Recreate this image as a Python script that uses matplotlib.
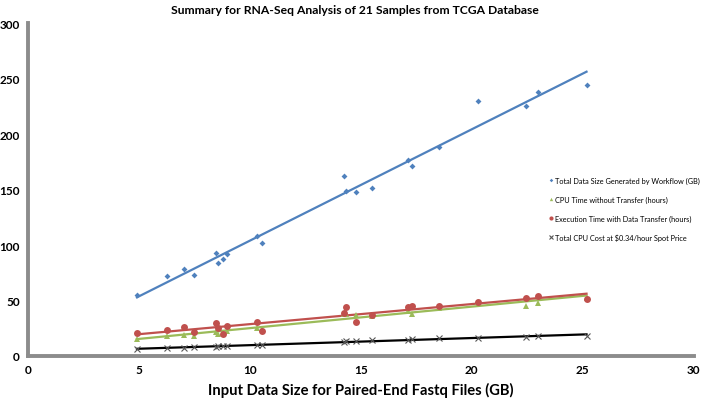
import numpy as np
import matplotlib
matplotlib.use("Agg")
import matplotlib.pyplot as plt

plt.rcParams['font.family'] = ['Lato', 'DejaVu Sans']

input_size = [4.91, 6.26, 7.01, 7.48, 8.47, 8.57, 8.81, 8.98, 10.34, 10.54,
              14.23, 14.32, 14.79, 15.5, 17.12, 17.31, 18.53, 20.26, 22.46, 22.97, 25.17]
data_size = [55, 71.8, 78, 72.7, 93, 83.5, 87, 91.5, 108, 101.5,
             162.5, 148.6, 148, 151.4, 176.3, 171, 188.3, 230, 225.5, 237.8, 244.4]
cpu_time = [15.3, 18.3, 19.2, 18.3, 21.3, 19.8, 21.0, 22.8, 25.5, 24.0,
            37.8, 38.0, 37.0, 36.3, 40.8, 37.8, 43.0, 49.0, 45.3, 47.7, 52.0]
exec_time = [20.4, 23.7, 26.4, 22.0, 29.4, 24.9, 19.8, 27.0, 30.6, 22.8,
             38.7, 43.8, 30.9, 37.0, 43.8, 44.7, 45.3, 48.3, 52.0, 53.7, 51.3]
cpu_cost = [6.5, 7.3, 7.6, 7.7, 8.5, 8.6, 8.8, 9.0, 9.5, 9.8,
            12.5, 13.3, 13.6, 14.0, 14.6, 15.2, 16.0, 16.4, 17.2, 17.8, 18.3]

labels = ["Total Data Size Generated by Workflow (GB)",
          "CPU Time without Transfer (hours)",
          "Execution Time with Data Transfer (hours)",
          "Total CPU Cost at $0.34/hour Spot Price"]
title = "Summary for RNA-Seq Analysis of 21 Samples from TCGA Database"
xlabel = "Input Data Size for Paired-End Fastq Files (GB)"

fig = plt.figure(figsize=(7.03, 4.02), dpi=100)
ax = fig.add_axes([0.0398, 0.112, 0.947, 0.828])

x = np.array(input_size)
series = [
    (data_size, '#4F81BD', 'D', 3.0, labels[0], '#4F81BD'),
    (cpu_time, '#9BBB59', '^', 4.0, labels[1], '#9BBB59'),
    (exec_time, '#C0504D', 'o', 5.0, labels[2], '#C0504D'),
    (cpu_cost, '#000000', 'x', 4.5, labels[3], '#555555'),
]
xs = np.array([x.min(), x.max()])
for y, col, mk, ms, lab, mcol in series:
    y = np.array(y)
    kw = dict(markeredgewidth=0.8) if mk == 'x' else dict(markeredgewidth=0)
    ax.plot(x, y, linestyle='none', marker=mk, markersize=ms, color=mcol, label=lab, zorder=3, **kw)
    p = np.polyfit(x, y, 1)
    ax.plot(xs, np.polyval(p, xs), color=col, linewidth=1.6, zorder=2)

ax.set_xlim(0, 30)
ax.set_ylim(0, 300)
ax.set_xticks(np.arange(0, 31, 5))
ax.set_yticks(np.arange(0, 301, 50))
for s in ['top', 'right']:
    ax.spines[s].set_visible(False)
for s in ['left', 'bottom']:
    ax.spines[s].set_color('#8C8C8C')
    ax.spines[s].set_linewidth(2.8)
ax.tick_params(axis='both', length=0, labelsize=8.5, pad=6)
for t in ax.get_xticklabels() + ax.get_yticklabels():
    t.set_fontweight('bold')
ax.set_xlabel(xlabel, fontsize=10.6, fontweight='bold', labelpad=5)
ax.xaxis.label.set_x((361 - 28) / (0.947 * 703))
fig.text(0.505, 0.975, title, ha='center', va='center', fontsize=8.7, fontweight='bold')

leg = ax.legend(loc='upper left', bbox_to_anchor=(0.77, 0.575), bbox_transform=fig.transFigure,
                frameon=False, fontsize=5.3, handletextpad=0.1, handlelength=0.8,
                labelspacing=1.6, markerscale=0.6)

fig.savefig('out.png', dpi=100)
